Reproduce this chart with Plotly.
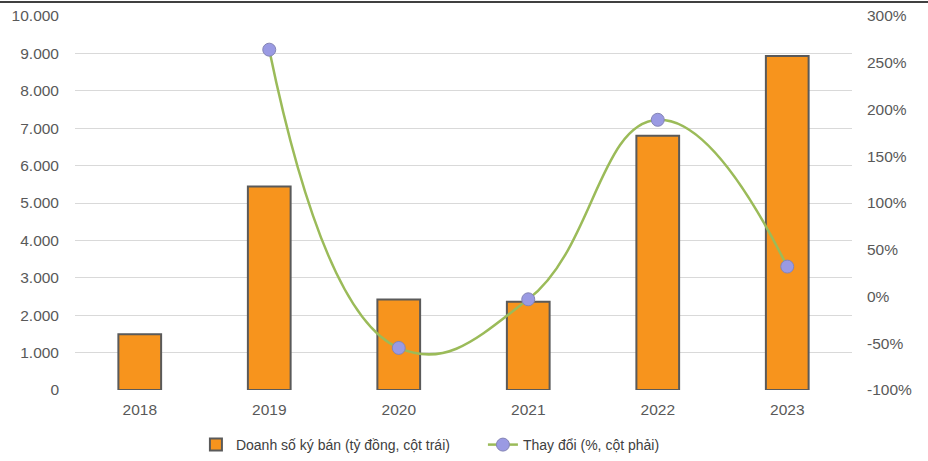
import plotly.graph_objects as go

years = ["2018", "2019", "2020", "2021", "2022", "2023"]
sales = [1490, 5440, 2420, 2360, 6800, 8930]
change = [None, 264, -55, -3, 189, 32]

left_ticks = [0, 1000, 2000, 3000, 4000, 5000, 6000, 7000, 8000, 9000, 10000]
left_labels = ["0", "1.000", "2.000", "3.000", "4.000", "5.000", "6.000", "7.000", "8.000", "9.000", "10.000"]
right_ticks = [-100, -50, 0, 50, 100, 150, 200, 250, 300]
right_labels = ["-100%", "-50%", "0%", "50%", "100%", "150%", "200%", "250%", "300%"]

W, H = 928, 461
ML, MR, MT, MB = 75, 76, 16, 71

fig = go.Figure()
fig.add_trace(go.Bar(
    x=years, y=sales, name="Doanh số ký bán (tỷ đồng, cột trái)",
    marker=dict(color="#F7941D", line=dict(color="#5A5A5A", width=2)),
    width=0.33, yaxis="y",
))
fig.add_trace(go.Scatter(
    x=years, y=change, name="Thay đổi (%, cột phải)", yaxis="y2",
    mode="lines+markers", line=dict(color="#9BBB59", width=2.5, shape="spline", smoothing=1.3),
    marker=dict(color="#9A9AE3", size=13, line=dict(color="#8585B5", width=1)),
    connectgaps=False,
))

font_col = "#595959"
tick_font = dict(family="Liberation Sans, Arial, sans-serif", size=15.5, color=font_col)
fig.update_layout(
    width=W, height=H,
    margin=dict(l=ML, r=MR, t=MT, b=MB, autoexpand=False),
    paper_bgcolor="white", plot_bgcolor="white",
    font=dict(family="Liberation Sans, Arial, sans-serif", size=14, color=font_col),
    xaxis=dict(showgrid=False, ticks="", showline=False, tickfont=tick_font,
               ticklabelstandoff=8),
    yaxis=dict(range=[0, 10000], tickvals=left_ticks, ticktext=left_labels,
               showgrid=True, gridcolor="#D9D9D9", gridwidth=1, zeroline=False,
               ticks="", tickfont=tick_font, ticklabelstandoff=15),
    yaxis2=dict(range=[-100, 300], tickvals=right_ticks, ticktext=right_labels,
                overlaying="y", side="right", showgrid=False, zeroline=False,
                ticks="", tickfont=tick_font, ticklabelstandoff=14),
    legend=dict(orientation="h", x=0.525, xanchor="center",
                yref="container", y=(H - 445) / H, yanchor="middle",
                font=dict(size=14, color="#404040"),
                entrywidth=242, entrywidthmode="pixels"),
    showlegend=True,
    bargap=0.67,
)
pw = W - ML - MR
ph = H - MT - MB
fig.add_shape(type="line", xref="paper", yref="paper",
              x0=-ML / pw, x1=(W - ML) / pw,
              y0=(H - MB - 2) / ph, y1=(H - MB - 2) / ph,
              line=dict(color="black", width=1.5))

fig.write_html("out.html")
